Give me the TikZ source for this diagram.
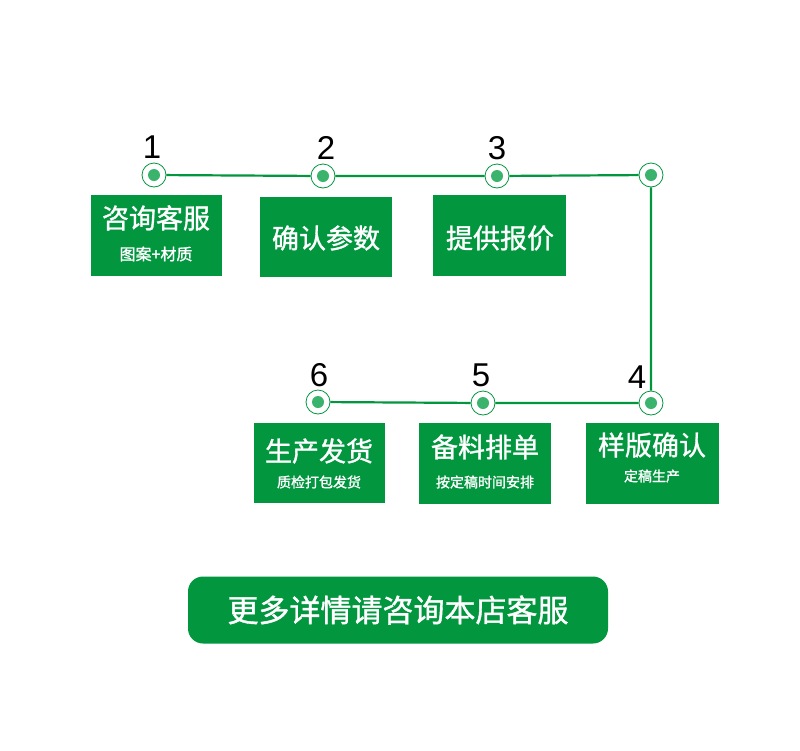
\documentclass[tikz,border=0pt]{standalone}
\usepackage{fontspec}
\newfontfamily\cjk[FakeBold=1.2]{Noto Sans CJK SC}
\setmainfont{Liberation Sans}
\definecolor{g}{HTML}{02963F}
\definecolor{gd}{HTML}{3AB46C}
\begin{document}
\begin{tikzpicture}[x=1pt,y=-1pt,
 ring/.style={circle,draw=g,fill=white,line width=0.8pt,minimum size=24pt,inner sep=0pt,path picture={\fill[gd] (path picture bounding box.center) circle (6pt);}},
 box/.style={fill=g,anchor=north west,inner sep=0pt},
 big/.style={text=white,font=\cjk\fontsize{27}{27}\selectfont},
 small/.style={text=white,font=\cjk\fontsize{16}{16}\selectfont},
 sm2/.style={text=white,font=\cjk\fontsize{14}{14}\selectfont},
 num/.style={font=\fontsize{33}{33}\selectfont,text=black}]
\useasboundingbox (0,0) rectangle (800,750);
\fill[white] (0,0) rectangle (800,750);
\node[ring] (c1) at (154,175) {};
\node[ring] (c2) at (323,176) {};
\node[ring] (c3) at (497,176) {};
\node[ring] (c4) at (651,175) {};
\node[ring] (c5) at (318,402) {};
\node[ring] (c6) at (483,403) {};
\node[ring] (c7) at (651,403) {};
\draw[g,line width=2.2pt] (c1)--(c2) (c2)--(c3) (c3)--(c4) (c4)--(c7) (c7)--(c6) (c6)--(c5);
\node[num] at (152,147) {1};
\node[num] at (326,148) {2};
\node[num] at (497,148) {3};
\node[num] at (637,377) {4};
\node[num] at (481,375) {5};
\node[num] at (319,375) {6};
\node[box,minimum width=131pt,minimum height=81pt] (b1) at (91,195) {};
\node[big] at (156,218) {咨询客服};
\node[small] at (156,254) {图案+材质};
\node[box,minimum width=132pt,minimum height=80pt] (b2) at (260,197) {};
\node[big] at (326,238) {确认参数};
\node[box,minimum width=133pt,minimum height=81pt] (b3) at (433,195) {};
\node[big] at (500,238) {提供报价};
\node[box,minimum width=131pt,minimum height=80pt] (b6) at (254,423) {};
\node[big] at (319,451) {生产发货};
\node[sm2] at (319,482) {质检打包发货};
\node[box,minimum width=132pt,minimum height=81pt] (b5) at (419,423) {};
\node[big] at (485,447) {备料排单};
\node[sm2] at (485,482) {按定稿时间安排};
\node[box,minimum width=133pt,minimum height=81pt] (b4) at (586,423) {};
\node[big] at (652,445) {样版确认};
\node[sm2] at (652,476) {定稿生产};
\node[fill=g,rounded corners=15pt,minimum width=420pt,minimum height=67pt,text=white,font=\cjk\fontsize{31}{31}\selectfont] (btn) at (398,610) {更多详情请咨询本店客服};
\end{tikzpicture}
\end{document}
